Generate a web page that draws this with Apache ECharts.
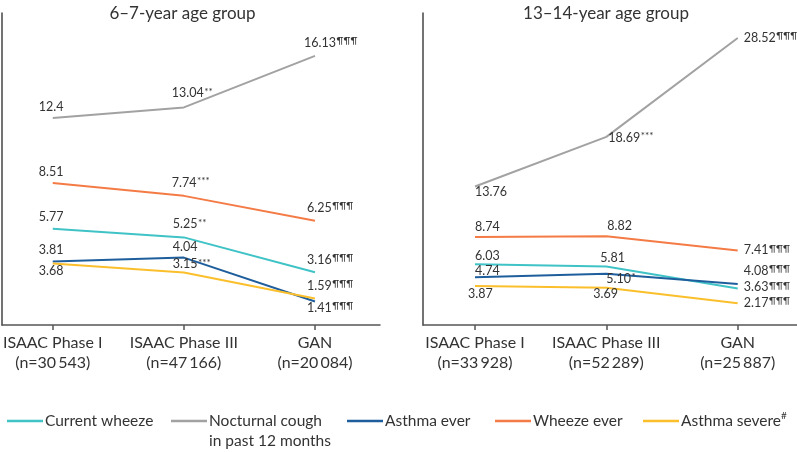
<!DOCTYPE html>
<html><head><meta charset="utf-8">
<script src="https://cdn.jsdelivr.net/npm/echarts@6/dist/echarts.min.js"></script>
<style>html,body{margin:0;padding:0;background:#fff}#c{width:797px;height:452px}</style>
</head><body><div id="c"></div>
<script>
// ---- data ----
const titles = ['6\u20137-year age group', '13\u201314-year age group'];
const categoriesLeft = ['ISAAC Phase I\n(n=30\u2009543)', 'ISAAC Phase III\n(n=47\u2009166)', 'GAN\n(n=20\u2009084)'];
const categoriesRight = ['ISAAC Phase I\n(n=33\u2009928)', 'ISAAC Phase III\n(n=52\u2009289)', 'GAN\n(n=25\u2009887)'];
const seriesNames = ['Current wheeze', 'Nocturnal cough', 'Asthma ever', 'Wheeze ever', 'Asthma severe'];
const legendText = ['Current wheeze', 'Nocturnal cough\nin past 12 months', 'Asthma ever', 'Wheeze ever', 'Asthma severe{s|#}'];

// 6-7-year age group (%)
const leftCurrentWheeze = [5.77, 5.25, 3.16];
const leftNocturnalCough = [12.4, 13.04, 16.13];
const leftAsthmaEver = [3.81, 4.04, 1.41];
const leftWheezeEver = [8.51, 7.74, 6.25];
const leftAsthmaSevere = [3.68, 3.15, 1.59];
// 13-14-year age group (%)
const rightCurrentWheeze = [6.03, 5.81, 3.63];
const rightNocturnalCough = [13.76, 18.69, 28.52];
const rightAsthmaEver = [4.74, 5.10, 4.08];
const rightWheezeEver = [8.74, 8.82, 7.41];
const rightAsthmaSevere = [3.87, 3.69, 2.17];

// label texts (value + significance mark)
const leftLabels = [
  ['5.77', '5.25|**', '3.16|\u00b6\u00b6\u00b6'],
  ['12.4', '13.04|**', '16.13|\u00b6\u00b6\u00b6'],
  ['3.81', '4.04', '1.41|\u00b6\u00b6\u00b6'],
  ['8.51', '7.74|***', '6.25|\u00b6\u00b6\u00b6'],
  ['3.68', '3.15|***', '1.59|\u00b6\u00b6\u00b6']
];
const rightLabels = [
  ['6.03', '5.81', '3.63|\u00b6\u00b6\u00b6'],
  ['13.76', '18.69|***', '28.52|\u00b6\u00b6\u00b6'],
  ['4.74', '5.10|*', '4.08|\u00b6\u00b6\u00b6'],
  ['8.74', '8.82', '7.41|\u00b6\u00b6\u00b6'],
  ['3.87', '3.69', '2.17|\u00b6\u00b6\u00b6']
];

// ---- styling / layout ----
const colors = ['#3FC3C6', '#A2A2A2', '#1F5E9C', '#F47B45', '#FBBF2C'];
const FONT = 'Lato';
const TXT = '#333333';
const leftLabelOffsets = [
  [[-14, -12], [-11, -13], [-8, -12]],
  [[-14, -11], [-12, -14], [-11, -13]],
  [[-14, -11], [-11, -11], [-8, 6]],
  [[-14, -11], [-12, -13], [-8, -13]],
  [[-14, 7], [-11, -8], [-8, -13]]
];
const rightLabelOffsets = [
  [[0, -8], [-6, -9], [6, -1]],
  [[0, 5], [2, 1], [6, 0]],
  [[0, -6], [0, 5], [6, -13]],
  [[0, -10], [1, -10], [6, 0]],
  [[-7, 8], [-13, 6], [6, 0]]
];

const leftValues = [leftCurrentWheeze, leftNocturnalCough, leftAsthmaEver, leftWheezeEver, leftAsthmaSevere];
const rightValues = [rightCurrentWheeze, rightNocturnalCough, rightAsthmaEver, rightWheezeEver, rightAsthmaSevere];

const chart = echarts.init(document.getElementById('c'), null, {renderer: 'canvas'});

function decoGridAxes(gi) {
  return {
    x: {gridIndex: gi, type: 'value', min: 0, max: 1, axisLine: {show: true, lineStyle: {color: '#555', width: 1.5}},
        axisTick: {show: false}, axisLabel: {show: false}, splitLine: {show: false}},
    y: {gridIndex: gi, type: 'value', min: 0, max: 1, axisLine: {show: true, lineStyle: {color: '#444', width: 1.5}},
        axisTick: {show: false}, axisLabel: {show: false}, splitLine: {show: false}}
  };
}
function dataX(gi, cats) {
  return {gridIndex: gi, type: 'category', data: cats, boundaryGap: false,
    axisLine: {show: false}, axisTick: {show: true, length: 5, alignWithLabel: true, lineStyle: {color: '#555', width: 1.5}},
    axisLabel: {interval: 0, margin: 8, fontFamily: FONT, fontSize: 16, lineHeight: 20, color: TXT}};
}
function dataY(gi, max) {
  return {gridIndex: gi, type: 'value', min: 0, max: max, show: false, splitLine: {show: false}};
}
const dL = decoGridAxes(0), dR = decoGridAxes(2);

const rich = {
  n: {fontFamily: FONT, fontSize: 12.5, color: TXT, lineHeight: 14},
  s: {fontFamily: FONT, fontSize: 10, color: TXT, lineHeight: 14, verticalAlign: 'top', padding: [0, 0, 0, 0.5]}
};
function buildSeries(values, labels, offsets, xi, yi) {
  return values.map((vals, si) => ({
    type: 'line', name: seriesNames[si], xAxisIndex: xi, yAxisIndex: yi,
    symbol: 'circle', symbolSize: 1, itemStyle: {color: 'rgba(0,0,0,0)'},
    lineStyle: {color: colors[si], width: 2},
    emphasis: {disabled: true}, silent: true, z: 2 + si,
    data: vals.map((v, i) => ({
      value: v,
      label: {show: true, position: 'inside', align: 'left', verticalAlign: 'middle',
        offset: offsets[si][i], rich: rich,
        formatter: () => {
          const parts = labels[si][i].split('|');
          return '{n|' + parts[0] + '}' + (parts[1] ? '{s|' + parts[1] + '}' : '');
        }}
    }))
  }));
}

const legendLefts = [2, 166, 342, 490, 638];
const legends = seriesNames.map((nm, i) => ({
  data: [{name: nm, itemStyle: {color: colors[i]}}],
  left: legendLefts[i], top: i === 1 ? 386 : 406,
  icon: 'rect', itemWidth: 36, itemHeight: 2.5, selectedMode: false,
  formatter: () => i === 1 ? ' \n' + legendText[i] : legendText[i],
  textStyle: {fontFamily: FONT, fontSize: 15.5, lineHeight: 20, color: TXT, padding: [0, 0, 0, -3],
    rich: {s: {fontFamily: FONT, fontSize: 10, color: TXT, verticalAlign: 'top', lineHeight: 20}}}
}));

chart.setOption({
  animation: false,
  backgroundColor: '#fff',
  title: [
    {text: titles[0], left: 177.5, textAlign: 'center', top: 0, textStyle: {fontFamily: FONT, fontSize: 17, fontWeight: 'normal', color: TXT}},
    {text: titles[1], left: 601, textAlign: 'center', top: 0, textStyle: {fontFamily: FONT, fontSize: 17, fontWeight: 'normal', color: TXT}}
  ],
  legend: legends,
  grid: [
    {left: 2, top: 13, width: 378, height: 312},
    {left: 52, top: 13, width: 263, height: 312},
    {left: 423, top: 13, width: 374, height: 312},
    {left: 475, top: 13, width: 262.7, height: 312}
  ],
  xAxis: [dL.x, dataX(1, categoriesLeft), dR.x, dataX(3, categoriesRight)],
  yAxis: [dL.y, dataY(1, 18.7), dR.y, dataY(3, 31)],
  series: [].concat(
    buildSeries(leftValues, leftLabels, leftLabelOffsets, 1, 1),
    buildSeries(rightValues, rightLabels, rightLabelOffsets, 3, 3)
  )
});
</script></body></html>
